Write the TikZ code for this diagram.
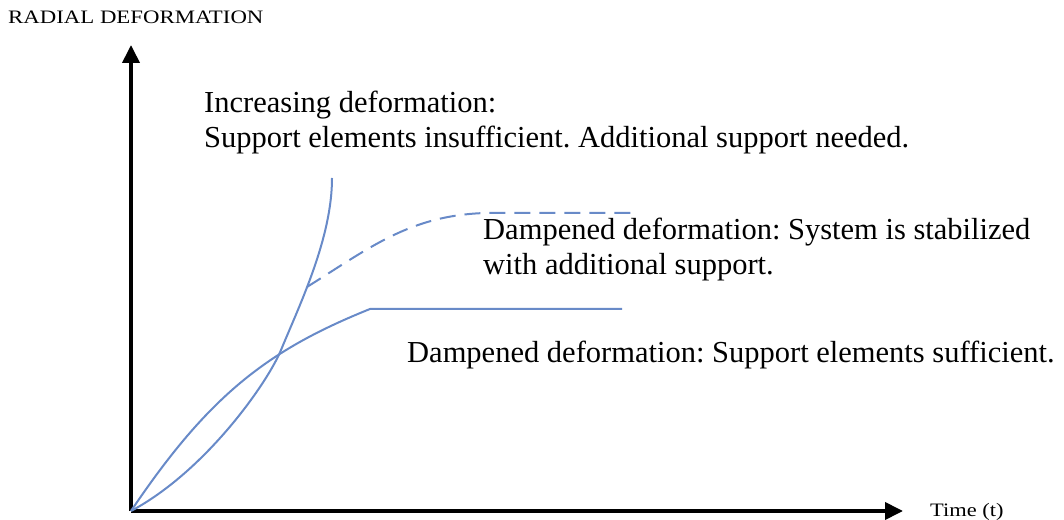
\documentclass[tikz,border=0pt]{standalone}
\usepackage{fontspec}
\setmainfont{Liberation Serif}
\usetikzlibrary{arrows.meta}
\definecolor{curveblue}{RGB}{104,138,200}
\tikzset{
  axis/.style={line width=3.8pt, -{Triangle[length=18pt,width=17pt]}},
  curve/.style={curveblue, line width=2pt},
  bigtext/.style={anchor=base west, font=\fontsize{30.5}{35}\selectfont\frenchspacing, align=left, inner sep=0pt},
  smalltext/.style={anchor=base west, font=\fontsize{19}{22}\selectfont, inner sep=0pt}
}
\begin{document}
\begin{tikzpicture}[x=1pt,y=1pt]
\useasboundingbox (0,0) rectangle (1064,519);
% axes
\coordinate (o) at (131,8);
\coordinate (ytop) at (131,474);
\coordinate (xtip) at (903,8);
\draw[axis] (o) -- (ytop);
\draw[axis] (o) -- (xtip);
\node[smalltext] (ylab) at (8,495) {\scalebox{1.2}[1]{RADIAL DEFORMATION}};
\node[smalltext] (xlab) at (930,3) {\scalebox{1.18}[1]{Time (t)}};
% curves
\coordinate (cross) at (281,169);
\coordinate (top) at (332,341);
\coordinate (flat1) at (370,210);
\coordinate (flat2) at (622,210);
\coordinate (dash1) at (485,306);
\coordinate (dash2) at (632,306);
\draw[curve] (o) .. controls (206,48) and (268,137) .. (cross)
  .. controls (300,215) and (332,281) .. coordinate[pos=0.4] (branch) (top);
\draw[curve] (o) .. controls (209,124) and (268,169) .. (flat1) -- (flat2);
\draw[curve, dash pattern=on 16pt off 9pt] (branch) to[out=32,in=182] (dash1) -- (dash2);
% labels
\node[bigtext] (incr) at (204,371) {Increasing deformation:\\Support elements insufficient. Additional support needed.};
\node[bigtext] (stab) at (483,244) {Dampened deformation: System is stabilized\\with additional support.};
\node[bigtext] (suff) at (407,156) {Dampened deformation: Support elements sufficient.};
\end{tikzpicture}
\end{document}
